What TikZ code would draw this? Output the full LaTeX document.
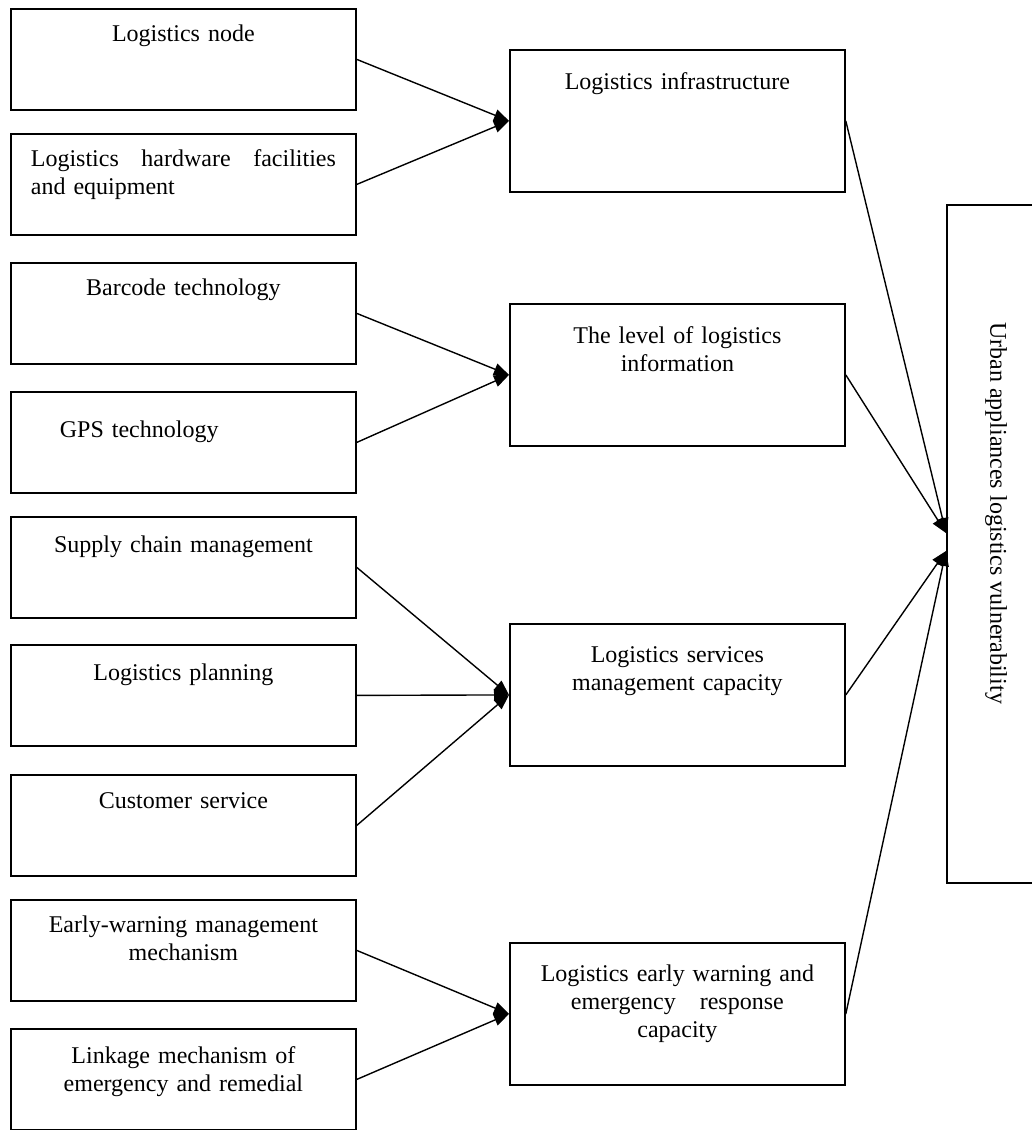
\documentclass[tikz,border=0pt]{standalone}
\usepackage{fontspec}
\setmainfont{Liberation Serif}
\usetikzlibrary{arrows.meta}

\tikzset{
  leftbox/.style={draw, line width=1.8pt, anchor=north west, inner xsep=20pt, inner ysep=0pt,
    text width=305pt, align=center, text height=33pt, text depth=68pt,
    font=\fontsize{24pt}{28pt}\selectfont},
  midbox/.style={draw, line width=1.8pt, anchor=north west, inner xsep=10pt, inner ysep=0pt,
    text width=315pt, align=center, text height=40pt, text depth=102pt,
    font=\fontsize{24pt}{28pt}\selectfont},
  link/.style={line width=1.4pt, -{Triangle[length=15pt,width=12pt]}}
}

\begin{document}
\begin{tikzpicture}[x=1pt,y=-1pt]
  \useasboundingbox (0,0) rectangle (1032,1130);
  % left column
  \node[leftbox] (lnode) at (10,8) {Logistics node};
  \node[leftbox, align=left] (lhard) at (10,133) {Logistics\hfill hardware\hfill facilities\\and equipment};
  \node[leftbox] (lbar) at (10,262) {Barcode technology};
  \node[leftbox, align=left, text height=46pt, text depth=55pt] (lgps) at (10,391) {\hspace*{29pt}GPS technology};
  \node[leftbox, text height=36pt, text depth=65pt] (lsup) at (10,516) {Supply chain management};
  \node[leftbox, text height=36pt, text depth=65pt] (lplan) at (10,644) {Logistics planning};
  \node[leftbox, text height=34pt, text depth=67pt] (lcust) at (10,774) {Customer service};
  \node[leftbox] (lwarn) at (10,899) {Early-warning management\\mechanism};
  \node[leftbox, text height=35pt, text depth=66pt] (llink) at (10,1028) {Linkage mechanism of\\emergency and remedial};
  % middle column
  \node[midbox] (infra) at (509,49) {Logistics infrastructure};
  \node[midbox] (info) at (509,303) {The level of logistics\\information};
  \node[midbox, text height=39pt, text depth=103pt] (serv) at (509,623) {Logistics services\\management capacity};
  \node[midbox, text height=39pt, text depth=103pt] (emerg) at (509,942)
    {Logistics early warning and\\emergency\hspace*{24pt}response\\capacity};
  % right column
  \node[draw, line width=1.8pt, anchor=north west, minimum width=120pt, minimum height=678pt,
    inner sep=0pt] (vul) at (946,204) {};
  \node[rotate=-90, font=\fontsize{24pt}{28pt}\selectfont] (vultext) at (996,513)
    {Urban appliances logistics vulnerability};
  \coordinate (vulup) at (946,533);
  \coordinate (vuldown) at (946,551);
  % connectors
  \draw[link] (lnode.east) -- (infra.west);
  \draw[link] (lhard.east) -- (infra.west);
  \draw[link] (lbar.east) -- (info.west);
  \draw[link] (lgps.east) -- (info.west);
  \draw[link] (lsup.east) -- (serv.west);
  \draw[link] (lplan.east) -- (serv.west);
  \draw[link] (lcust.east) -- (serv.west);
  \draw[link] (lwarn.east) -- (emerg.west);
  \draw[link] (llink.east) -- (emerg.west);
  \draw[link] (infra.east) -- (vulup);
  \draw[link] (info.east) -- (vulup);
  \draw[link] (serv.east) -- (vuldown);
  \draw[link] (emerg.east) -- (vuldown);
\end{tikzpicture}
\end{document}
